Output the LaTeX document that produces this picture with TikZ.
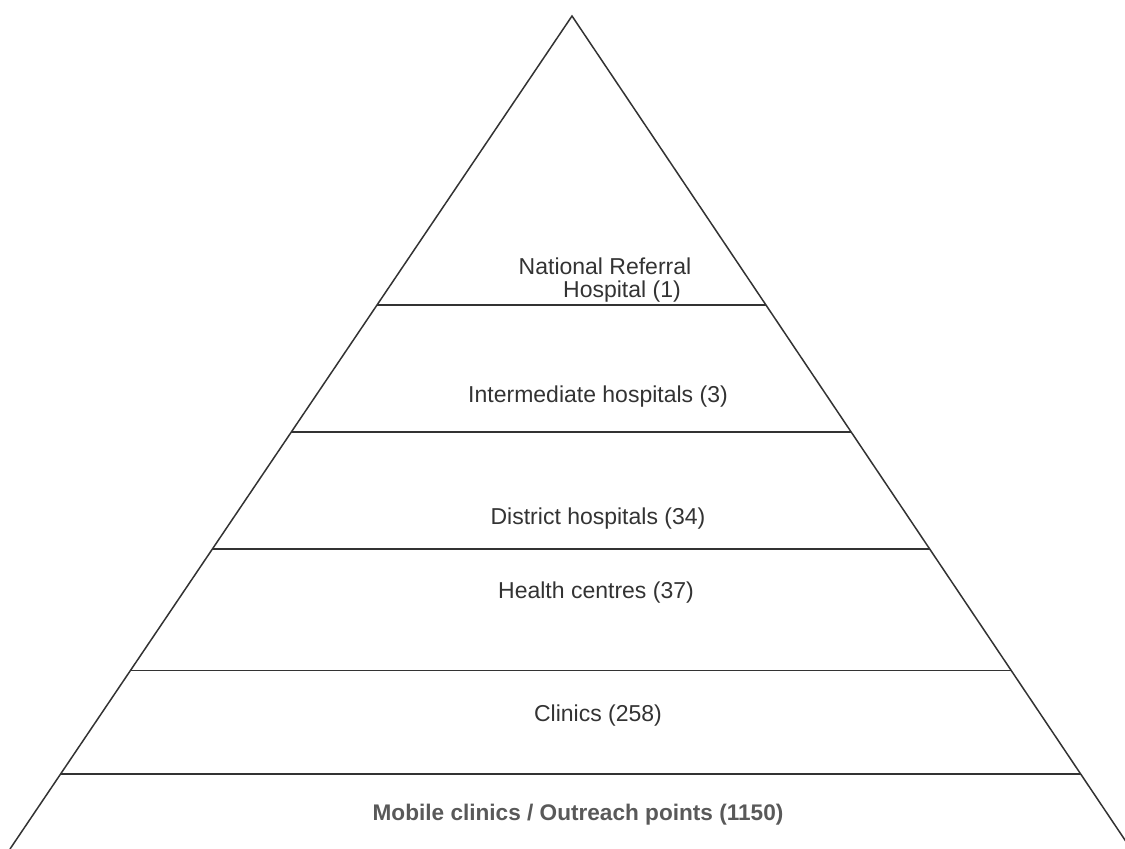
\documentclass[tikz,border=0pt]{standalone}
\usepackage{fontspec}
\setmainfont{Liberation Sans}
\usetikzlibrary{calc}

\tikzset{
  edge/.style={draw=black!80, line width=0.75pt},
  level/.style={text=black!80, font=\fontsize{11.5}{13}\selectfont, inner sep=0pt},
  base/.style={text=black!65, font=\fontsize{11.3}{13}\selectfont\bfseries, inner sep=0pt}
}

\begin{document}
\begin{tikzpicture}[x=0.5pt, y=-0.5pt]

    % Frame of the picture
    \useasboundingbox (0,0) rectangle (1125,849);

    % Corners of the pyramid
    \coordinate (top) at (572,16);
    \coordinate (bl) at (10,849);
    \coordinate (br) at (1131,849);
    \draw[edge] (bl) -- (top) -- (br);

    % Level lines
    \foreach \f [count=\i] in {0.347,0.4995,0.640,0.786,0.910} {
        \coordinate (l\i) at ($(top)!\f!(bl)$);
        \coordinate (r\i) at ($(top)!\f!(br)$);
        \draw[edge] (l\i) -- (r\i);
    }

    % Labels
    \node[level] (nrh1) at (605,266) {National Referral};
    \node[level] (nrh2) at (622,292) {Hospital (1)};
    \node[level] (inter) at (598,397) {Intermediate hospitals (3)};
    \node[level] (district) at (598,519) {District hospitals (34)};
    \node[level] (health) at (596,593) {Health centres (37)};
    \node[level] (clinics) at (598,716) {Clinics (258)};
    \node[base] (mobile) at (578,815) {Mobile clinics / Outreach points (1150)};

\end{tikzpicture}
\end{document}
